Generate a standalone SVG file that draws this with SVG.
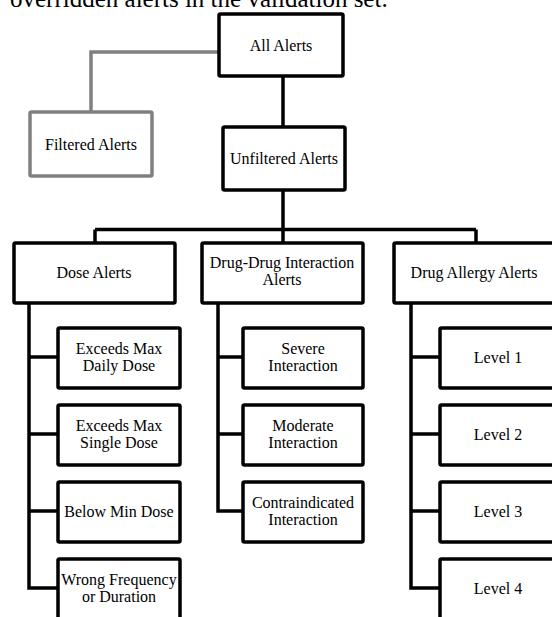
<svg xmlns="http://www.w3.org/2000/svg" width="552" height="617" viewBox="0 0 552 617">
<style>
.b{fill:#fff;stroke:#000;stroke-width:3.5}
.g{fill:#fff;stroke:#808080;stroke-width:3.5}
.c{fill:none;stroke:#000;stroke-width:3.5}
.cg{fill:none;stroke:#808080;stroke-width:3.5}
text{font-family:"Liberation Serif","Times New Roman",serif;font-size:16px;fill:#000;text-anchor:middle}
.cap{font-size:25px;text-anchor:start}
</style>
<rect width="552" height="617" fill="#fff"/>
<text class="cap" x="10" y="7">overridden alerts in the validation set.</text>
<g id="connectors">
<path class="cg" d="M219,52 H91 V112"/>
<path class="c" d="M283,76 V127"/>
<path class="c" d="M283,190 V243"/>
<path class="c" d="M95,229.5 H476"/>
<path class="c" d="M95,229.5 V243"/>
<path class="c" d="M476,229.5 V243"/>
<path class="c" d="M29,303 V588 H58 M29,511 H58 M29,434 H58 M29,357 H58"/>
<path class="c" d="M218,303 V511 H243 M218,434 H243 M218,357 H243"/>
<path class="c" d="M411,303 V588 H440 M411,511 H440 M411,434 H440 M411,357 H440"/>
</g>
<g id="all"><rect class="b" x="219" y="14" width="124" height="62" rx="1.5"/><text x="281" y="51">All Alerts</text></g>
<g id="filtered"><rect class="g" x="30" y="112" width="122" height="64" rx="1.5"/><text x="91" y="150">Filtered Alerts</text></g>
<g id="unfiltered"><rect class="b" x="223" y="127" width="122" height="63" rx="1.5"/><text x="284" y="164">Unfiltered Alerts</text></g>
<g id="dose"><rect class="b" x="14" y="243" width="161" height="60" rx="1.5"/><text x="94" y="278">Dose Alerts</text></g>
<g id="ddi"><rect class="b" x="202" y="243" width="161" height="60" rx="1.5"/><text x="282" y="268">Drug-Drug Interaction</text><text x="282" y="285">Alerts</text></g>
<g id="allergy"><rect class="b" x="394" y="243" width="161" height="60" rx="1.5"/><text x="474" y="278">Drug Allergy Alerts</text></g>
<g id="d1"><rect class="b" x="58" y="328" width="122" height="60" rx="1.5"/><text x="119" y="354">Exceeds Max</text><text x="119" y="371">Daily Dose</text></g>
<g id="d2"><rect class="b" x="58" y="405" width="122" height="60" rx="1.5"/><text x="119" y="431">Exceeds Max</text><text x="119" y="448">Single Dose</text></g>
<g id="d3"><rect class="b" x="58" y="482" width="122" height="60" rx="1.5"/><text x="119" y="517">Below Min Dose</text></g>
<g id="d4"><rect class="b" x="58" y="559" width="122" height="60" rx="1.5"/><text x="119" y="585">Wrong Frequency</text><text x="119" y="602">or Duration</text></g>
<g id="i1"><rect class="b" x="243" y="328" width="120" height="60" rx="1.5"/><text x="303" y="354">Severe</text><text x="303" y="371">Interaction</text></g>
<g id="i2"><rect class="b" x="243" y="405" width="120" height="60" rx="1.5"/><text x="303" y="431">Moderate</text><text x="303" y="448">Interaction</text></g>
<g id="i3"><rect class="b" x="243" y="482" width="120" height="60" rx="1.5"/><text x="303" y="508">Contraindicated</text><text x="303" y="525">Interaction</text></g>
<g id="a1"><rect class="b" x="440" y="328" width="118" height="60" rx="1.5"/><text x="498" y="363">Level 1</text></g>
<g id="a2"><rect class="b" x="440" y="405" width="118" height="60" rx="1.5"/><text x="498" y="440">Level 2</text></g>
<g id="a3"><rect class="b" x="440" y="482" width="118" height="60" rx="1.5"/><text x="498" y="517">Level 3</text></g>
<g id="a4"><rect class="b" x="440" y="559" width="118" height="60" rx="1.5"/><text x="498" y="594">Level 4</text></g>
</svg>
